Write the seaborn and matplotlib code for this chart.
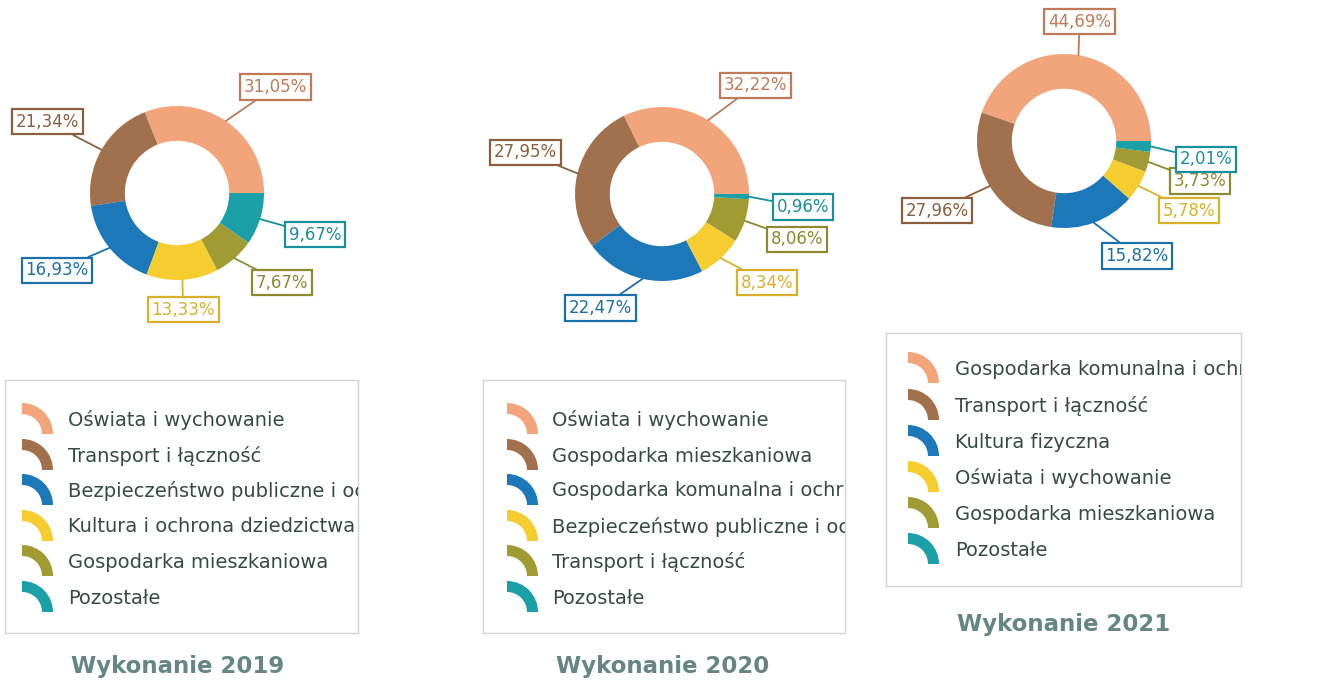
import matplotlib
matplotlib.use("Agg")
import matplotlib.pyplot as plt
from matplotlib.patches import Wedge
import numpy as np
import seaborn as sns

# ---- data -------------------------------------------------------------
years = ["2019", "2020", "2021"]

# legend entries as they appear in the (narrow) legend frames
categories_2019 = ["Oświata i wychowanie", "Transport i łączność",
                   "Bezpieczeństwo publiczne i oc",
                   "Kultura i ochrona dziedzictwa",
                   "Gospodarka mieszkaniowa", "Pozostałe"]
shares_2019 = [31.05, 21.34, 16.93, 13.33, 7.67, 9.67]

categories_2020 = ["Oświata i wychowanie", "Gospodarka mieszkaniowa",
                   "Gospodarka komunalna i ochr",
                   "Bezpieczeństwo publiczne i oc",
                   "Transport i łączność", "Pozostałe"]
shares_2020 = [32.22, 27.95, 22.47, 8.34, 8.06, 0.96]

categories_2021 = ["Gospodarka komunalna i ochr",
                   "Transport i łączność", "Kultura fizyczna",
                   "Oświata i wychowanie", "Gospodarka mieszkaniowa",
                   "Pozostałe"]
shares_2021 = [44.69, 27.96, 15.82, 5.78, 3.73, 2.01]

# ---- styling ----------------------------------------------------------
sns.set_theme(style="white")
plt.rcParams["font.family"] = ["DejaVu Sans"]

ring_colors = sns.color_palette(["#F2A47A", "#A0714C", "#1C78B8",
                                 "#F6CD2E", "#A19B34", "#1AA0A6"])
label_colors = sns.color_palette(["#C07A58", "#8A5F3E", "#1B6FAB",
                                  "#D8B02A", "#8C8A2E", "#17909A"])
legend_text_color = "#384a45"
title_color = "#658683"

W, H = 1324, 687
fig = plt.figure(figsize=(W / 100, H / 100), dpi=100)
fig.patch.set_facecolor("white")

RADIUS_PX = 87
HALF_PX = 210


def px_axes(left, top, width, height):
    return fig.add_axes([left / W, 1 - (top + height) / H, width / W, height / H])


# donut centres (px) and label box anchors (in units of the outer radius)
panels = [
    dict(cx=177, cy=193, shares=shares_2019, cats=categories_2019,
         label_xy=[(1.13, 1.22), (-1.49, 0.82), (-1.38, -0.89),
                   (0.07, -1.34), (1.21, -1.03), (1.59, -0.48)],
         legend=(5, 380, 353, 253), icon_x=22, text_x=68,
         row_y=[420, 456, 491, 527, 562, 598], title_y=667, title_x=178),
    dict(cx=662, cy=194, shares=shares_2020, cats=categories_2020,
         label_xy=[(1.07, 1.25), (-1.57, 0.48), (-0.71, -1.31),
                   (1.21, -1.02), (1.55, -0.52), (1.62, -0.15)],
         legend=(483, 380, 362, 253), icon_x=507, text_x=552,
         row_y=[420, 456, 491, 527, 562, 598], title_y=667, title_x=663),
    dict(cx=1064, cy=141, shares=shares_2021, cats=categories_2021,
         label_xy=[(0.18, 1.37), (-1.46, -0.80), (0.84, -1.32),
                   (1.44, -0.80), (1.56, -0.46), (1.63, -0.21)],
         legend=(886, 333, 355, 253), icon_x=908, text_x=955,
         row_y=[369, 406, 442, 478, 514, 550], title_y=625, title_x=1064),
]


def pct_text(v):
    return f"{v:.2f}".replace(".", ",") + "%"


for year, p in zip(years, panels):
    # --- donut ---
    ax = px_axes(p["cx"] - HALF_PX, p["cy"] - HALF_PX, 2 * HALF_PX, 2 * HALF_PX)
    wedges, _ = ax.pie(p["shares"], colors=ring_colors, startangle=0,
                       counterclock=True, radius=1.0,
                       wedgeprops=dict(width=0.40, edgecolor="none"))
    lim = HALF_PX / RADIUS_PX
    ax.set_xlim(-lim, lim)
    ax.set_ylim(-lim, lim)
    ax.set_aspect("equal")
    ax.axis("off")

    # --- value labels with leader lines ---
    for i, (w, v) in enumerate(zip(wedges, p["shares"])):
        mid = np.deg2rad((w.theta1 + w.theta2) / 2)
        tx, ty = p["label_xy"][i]
        ax.annotate(pct_text(v), xy=(np.cos(mid), np.sin(mid)), xytext=(tx, ty),
                    ha="center", va="center", fontsize=12,
                    color=label_colors[i], annotation_clip=False,
                    bbox=dict(boxstyle="square,pad=0.22", fc="white",
                              ec=label_colors[i], lw=1.6),
                    arrowprops=dict(arrowstyle="-", color=label_colors[i],
                                    lw=1.3, shrinkA=0, shrinkB=0),
                    zorder=5 + i)

    # --- legend box ---
    lx, ly, lw_, lh = p["legend"]
    lax = px_axes(lx, ly, lw_, lh)
    lax.set_xlim(0, lw_)
    lax.set_ylim(0, lh)
    lax.set_xticks([])
    lax.set_yticks([])
    lax.set_facecolor("white")
    for s in lax.spines.values():
        s.set_color("#d4d4d4")
        s.set_linewidth(1.0)
    for i, cat in enumerate(p["cats"]):
        yc = lh - (p["row_y"][i] - ly)
        icon = Wedge((p["icon_x"] - lx, yc - 14), 31, 0, 90, width=11,
                     facecolor=ring_colors[i], edgecolor="none")
        lax.add_patch(icon)
        lax.text(p["text_x"] - lx, yc, cat, fontsize=14, color=legend_text_color,
                 ha="left", va="center", clip_on=True)

    # --- title ---
    fig.text(p["title_x"] / W, 1 - p["title_y"] / H, f"Wykonanie {year}",
             ha="center", va="center", fontsize=16.5, fontweight="bold",
             color=title_color)

fig.savefig("out.png", dpi=100, facecolor="white")
